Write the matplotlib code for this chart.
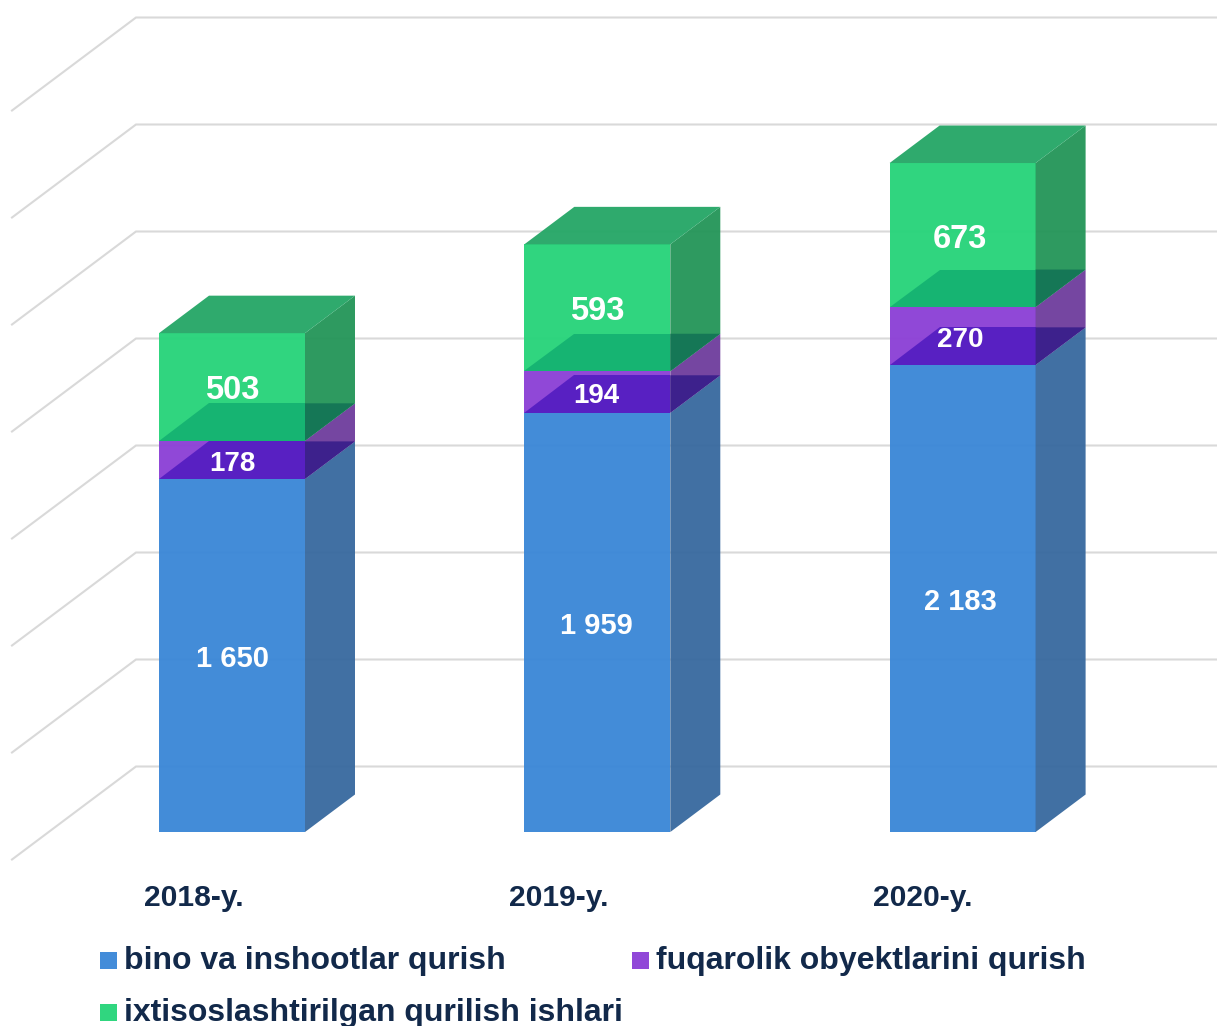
import matplotlib
matplotlib.use('Agg')
import matplotlib.pyplot as plt
from matplotlib.patches import Rectangle

plt.rcParams['font.family'] = ['Liberation Sans', 'DejaVu Sans']

years = ['2018-y.', '2019-y.', '2020-y.']
bino = [1650, 1959, 2183]
fuqarolik = [178, 194, 270]
ixtisos = [503, 593, 673]
value_labels = [['1 650', '1 959', '2 183'], ['178', '194', '270'], ['503', '593', '673']]
legend_labels = ['bino va inshootlar qurish', 'fuqarolik obyektlarini qurish',
                 'ixtisoslashtirilgan qurilish ishlari']
grid_values = [0, 500, 1000, 1500, 2000, 2500, 3000, 3500]

W, H = 1217, 1026
PX_X = 365.3      # pixels per category
PX_Y = 0.214      # pixels per value unit
X0, Y0 = 232, 832  # pixel of category 0 / value 0

# colours per stack: front, side, top, top seen through the next stack (front, side)
blue = dict(front='#3b87d7', side='#396a9f')
purple = dict(front='#8c40d6', side='#6f3e9d', through='#561fc2', through_side='#3b208c')
green = dict(front='#27d47a', side='#259659', top='#26a767', through='#15b372', through_side='#147656')
legend_colors = ['#438cd9', '#9148d8', '#30d67f']
text_dark = '#12294a'
FACE_ALPHA = 0.96

fig = plt.figure(figsize=(W / 100, H / 100), dpi=100)
ax = fig.add_axes([0, 0, 1, 1])
ax.set_xlim(-X0 / PX_X, (W - X0) / PX_X)
ax.set_ylim((Y0 - H) / PX_Y, Y0 / PX_Y)
ax.axis('off')


def dx(px):
    return px / PX_X


def dy(px):
    return px / PX_Y


# walls
for v in grid_values:
    yf = v + dy(-27.5)
    yb = yf + dy(93)
    ax.plot([dx(12 - X0), dx(136 - X0), dx(W - X0)], [yf, yb, yb], color='#d9d9d9', lw=1.5,
            solid_joinstyle='miter', zorder=1)

# bars
bar_w = dx(146)
depth_x = dx(50)
depth_y = dy(37.5)
bottoms = [0, 0, 0]
stacks = [(bino, blue), (fuqarolik, purple), (ixtisos, green)]
for s, (vals, st) in enumerate(stacks):
    for i, v in enumerate(vals):
        b = bottoms[i]
        t = b + v
        x0, x1 = i - bar_w / 2, i + bar_w / 2
        ax.bar(i, v, bar_w, bottom=b, color=st['front'], alpha=FACE_ALPHA, lw=0, zorder=2)
        ax.fill([x1, x1 + depth_x, x1 + depth_x, x1], [b, b + depth_y, t + depth_y, t],
                color=st['side'], alpha=FACE_ALPHA, lw=0, zorder=2)
        if 'through' in st:
            # top of the stack below, seen through this one
            ax.fill([x0, x1, x1, x0 + depth_x], [b, b, b + depth_y, b + depth_y],
                    color=st['through'], alpha=FACE_ALPHA, lw=0, zorder=3)
            ax.fill([x1, x1 + depth_x, x1], [b, b + depth_y, b + depth_y],
                    color=st['through_side'], alpha=FACE_ALPHA, lw=0, zorder=3)
        if 'top' in st:
            ax.fill([x0, x1, x1 + depth_x, x0 + depth_x], [t, t, t + depth_y, t + depth_y],
                    color=st['top'], alpha=FACE_ALPHA, lw=0, zorder=3)
        bottoms[i] = t

# value labels
label_sizes = [21, 20, 23.5]
label_shift = [0.5, -0.5, -2.5]
bottoms = [0, 0, 0]
for s, (vals, st) in enumerate(stacks):
    for i, v in enumerate(vals):
        ax.text(i + dx(label_shift[i]), bottoms[i] + v / 2 + dy(-4), value_labels[s][i], color='white',
                fontsize=label_sizes[s], fontweight='bold', ha='center', va='center', zorder=5)
        bottoms[i] += v

# category labels
for i, y in enumerate(years):
    ax.text(i + dx(-38 - i), dy(832 - 898), y, color=text_dark, fontsize=21.6, fontweight='bold',
            ha='center', va='center', zorder=5)

# legend
legend_pos = [(100, 960), (632, 960), (100, 1012)]
for (px, py), lab, c in zip(legend_pos, legend_labels, legend_colors):
    fig.add_artist(Rectangle((px / W, 1 - (py + 8.5) / H), 17 / W, 17 / H, transform=fig.transFigure,
                             facecolor=c, edgecolor='none'))
    fig.text((px + 24) / W, 1 - (py + 1) / H, lab, color=text_dark, fontsize=23.02, fontweight='bold',
             ha='left', va='center')

fig.savefig('out.png', dpi=100)
